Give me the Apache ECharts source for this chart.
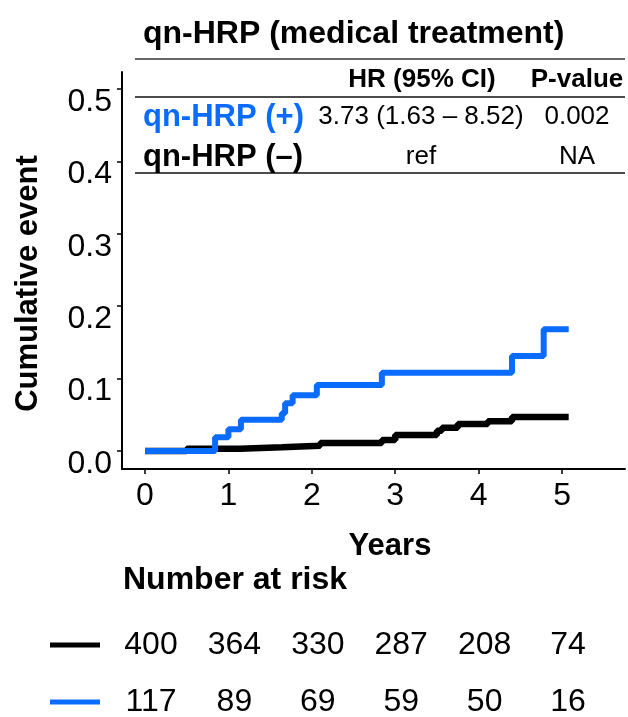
<!DOCTYPE html>
<html lang="en">
<head>
    <meta charset="UTF-8">
    <title>qn-HRP (medical treatment)</title>
    <script type="text/javascript" src="https://cdn.jsdelivr.net/npm/echarts@6/dist/echarts.min.js"></script>
    <style>
        html, body { margin: 0; padding: 0; background: #fff; }
        #container { width: 628px; height: 717px; }
    </style>
</head>
<body>
    <div id="container"></div>
</body>
<script type="text/javascript">
    // --- data ---
    var yearTicks = [0, 1, 2, 3, 4, 5];
    var cumTicks = [0, 0.1, 0.2, 0.3, 0.4, 0.5];

    // qn-HRP (-) : black
    var negTimes = [0, 0.5, 1.14, 1.64, 2.1, 2.84, 3.0, 3.5, 3.56, 3.75, 4.11, 4.4, 5.08];
    var negCum = [0, 0.003, 0.005, 0.007, 0.011, 0.015, 0.022, 0.028, 0.032, 0.037, 0.041, 0.047, 0.047];

    // qn-HRP (+) : blue
    var posTimes = [0, 0.84, 1.0, 1.15, 1.64, 1.68, 1.77, 2.06, 2.84, 4.4, 4.78, 5.08];
    var posCum = [0, 0.019, 0.030, 0.043, 0.052, 0.066, 0.077, 0.091, 0.108, 0.131, 0.168, 0.168];

    var riskNeg = [400, 364, 330, 287, 208, 74];
    var riskPos = [117, 89, 69, 59, 50, 16];

    var tableHeader = ['HR (95% CI)', 'P-value'];
    var tableRows = [
        ['qn-HRP (+)', '3.73 (1.63 \u2013 8.52)', '0.002'],
        ['qn-HRP (\u2013)', 'ref', 'NA']
    ];

    var BLUE = '#0a6cff';
    var FONT = 'Liberation Sans';

    function pairs(xs, ys) {
        return xs.map(function (x, i) { return [x, ys[i]]; });
    }
    function riskPoints(vals, row) {
        return vals.map(function (v, i) { return [yearTicks[i], row, v]; });
    }

    var dom = document.getElementById('container');
    var myChart = echarts.init(dom, null, { renderer: 'canvas' });

    // table in the top of the plot
    var graphics = [];
    function hline(y, x1, x2, w, c) {
        graphics.push({ type: 'line', shape: { x1: x1, y1: y, x2: x2, y2: y }, style: { stroke: c || '#222', lineWidth: w || 1.5 }, z: 10 });
    }
    function txt(s, x, y, size, weight, color, align) {
        graphics.push({
            type: 'text', x: x, y: y, z: 10,
            style: { text: s, fontSize: size, fontWeight: weight, fontFamily: FONT, fill: color || '#000', align: align || 'center', verticalAlign: 'middle' }
        });
    }
    hline(59, 135, 625, 1.5, '#333');
    hline(97, 135, 625, 1.5, '#111');
    hline(173, 135, 625, 1.5, '#111');
    txt(tableHeader[0], 422, 80, 26, 'bold');
    txt(tableHeader[1], 577, 80, 26, 'bold');
    var rowY = [117, 157];
    tableRows.forEach(function (r, i) {
        txt(r[0], 143, rowY[i], 31, 'bold', i === 0 ? BLUE : '#000', 'left');
        txt(r[1], 421, rowY[i], 26, 'normal');
        txt(r[2], 577, rowY[i], 26, 'normal');
    });
    // number at risk heading and colour keys
    txt('Number at risk', 123, 580, 32, 'bold', '#000', 'left');
    hline(645, 50, 100, 5, '#000');
    hline(702, 50, 100, 5, BLUE);

    myChart.setOption({
        animation: false,
        backgroundColor: '#fff',
        title: {
            text: 'qn-HRP (medical treatment)',
            left: 138,
            top: 13,
            textStyle: { fontFamily: FONT, fontSize: 32, fontWeight: 'bold', color: '#000' }
        },
        grid: [
            { left: 122, right: 3, top: 72, bottom: 248 },
            { left: 122, right: 3, top: 645, bottom: 15 }
        ],
        xAxis: [{
            gridIndex: 0,
            type: 'value',
            min: -0.276,
            max: 5.755,
            name: 'Years',
            nameLocation: 'middle',
            nameGap: 62,
            nameTextStyle: { fontFamily: FONT, fontSize: 31, fontWeight: 'bold', color: '#000', padding: [0, 0, 0, 33] },
            axisLine: { show: true, onZero: false, lineStyle: { color: '#000', width: 2 } },
            axisTick: { show: true, length: 5, lineStyle: { color: '#000', width: 1.5 }, customValues: yearTicks },
            axisLabel: { fontFamily: FONT, fontSize: 32, color: '#000', margin: 11, customValues: yearTicks },
            splitLine: { show: false }
        }, {
            gridIndex: 1,
            type: 'value',
            min: -0.276,
            max: 5.755,
            show: false
        }],
        yAxis: [{
            gridIndex: 0,
            type: 'value',
            min: -0.025,
            max: 0.5235,
            name: 'Cumulative event',
            nameLocation: 'middle',
            nameGap: 78,
            nameRotate: 90,
            nameTextStyle: { fontFamily: FONT, fontSize: 31, fontWeight: 'bold', color: '#000', padding: [0, 26, 0, 0] },
            axisLine: { show: true, onZero: false, lineStyle: { color: '#000', width: 2 } },
            axisTick: { show: true, length: 5, lineStyle: { color: '#000', width: 1.5 }, customValues: cumTicks },
            axisLabel: {
                fontFamily: FONT, fontSize: 32, color: '#000', margin: 10,
                verticalAlign: 'top',
                lineHeight: 26,
                customValues: cumTicks,
                formatter: function (v) { return v.toFixed(1); }
            },
            splitLine: { show: false }
        }, {
            gridIndex: 1,
            type: 'value',
            min: 0,
            max: 1,
            inverse: true,
            show: false
        }],
        series: [{
            name: 'qn-HRP (\u2013)',
            type: 'line',
            step: 'end',
            xAxisIndex: 0,
            yAxisIndex: 0,
            symbol: 'none',
            data: pairs(negTimes, negCum),
            lineStyle: { color: '#000', width: 6.5 }
        }, {
            name: 'qn-HRP (+)',
            type: 'line',
            step: 'end',
            xAxisIndex: 0,
            yAxisIndex: 0,
            symbol: 'none',
            data: pairs(posTimes, posCum),
            lineStyle: { color: BLUE, width: 6 }
        }, {
            type: 'scatter',
            xAxisIndex: 1,
            yAxisIndex: 1,
            symbolSize: 0,
            itemStyle: { opacity: 1 },
            data: riskPoints(riskNeg, 0).concat(riskPoints(riskPos, 1)),
            label: {
                show: true,
                position: 'inside',
                offset: [6, 0],
                fontFamily: FONT,
                fontSize: 32,
                color: '#000',
                opacity: 1,
                textBorderWidth: 0,
                formatter: function (p) { return p.value[2]; }
            }
        }],
        graphic: graphics
    });

    window.addEventListener('resize', myChart.resize);
</script>
</html>
